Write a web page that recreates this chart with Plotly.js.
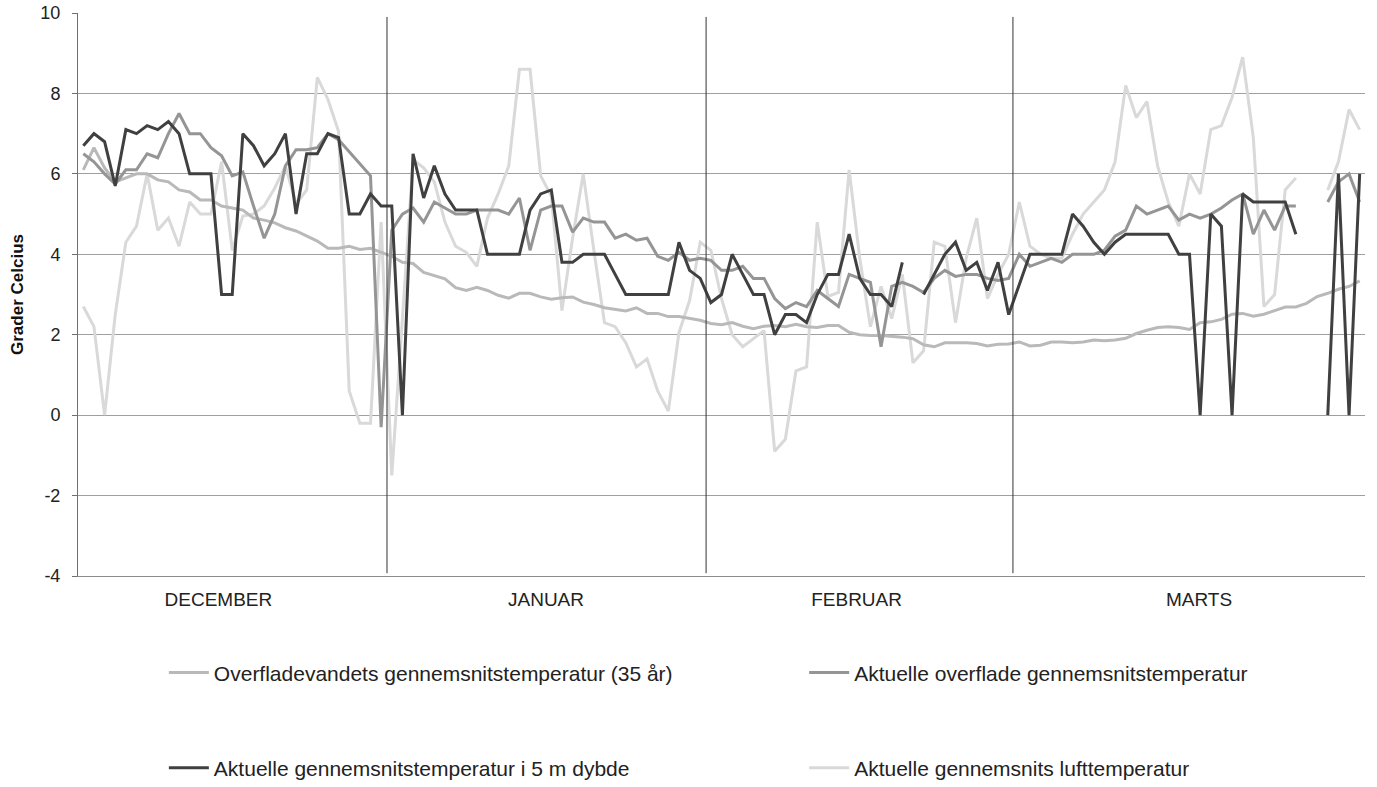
<!DOCTYPE html>
<html>
<head>
<meta charset="utf-8">
<script src="https://cdn.plot.ly/plotly-3.0.1.min.js"></script>
<style>
  html, body { margin: 0; padding: 0; background: #ffffff; }
  #chart { width: 1377px; height: 787px; }
</style>
</head>
<body>
<div id="chart"></div>
<script>
// Daily values, 1 December to 31 March (121 days); null = missing reading
const avg35 = [6.1,6.65,6.15,5.8,5.9,6.0,6.0,5.85,5.8,5.6,5.55,5.35,5.35,5.2,5.15,5.1,4.9,4.85,4.78,4.66,4.58,4.45,4.33,4.15,4.15,4.2,4.12,4.15,4.05,3.95,
  3.8,3.77,3.55,3.47,3.39,3.17,3.1,3.18,3.1,2.98,2.91,3.03,3.03,2.94,2.88,2.92,2.94,2.81,2.75,2.67,2.63,2.59,2.67,2.53,2.53,2.45,2.45,2.4,2.36,2.28,2.25,
  2.3,2.21,2.15,2.21,2.23,2.2,2.26,2.2,2.18,2.23,2.23,2.06,2.0,1.98,1.98,1.96,1.94,1.9,1.75,1.7,1.8,1.8,1.8,1.78,1.72,1.76,1.77,
  1.82,1.72,1.74,1.82,1.82,1.8,1.82,1.87,1.85,1.87,1.91,2.03,2.11,2.18,2.2,2.18,2.13,2.3,2.32,2.38,2.51,2.53,2.46,2.51,2.6,2.69,2.69,2.78,2.95,3.03,3.13,3.2,3.34];

const surface = [6.5,6.3,6.0,5.75,6.1,6.1,6.5,6.4,7.0,7.5,7.0,7.0,6.65,6.45,5.95,6.05,5.2,4.4,5.0,6.2,6.6,6.6,6.65,7.0,6.85,6.55,6.25,5.95,-0.3,4.6,
  5.0,5.15,4.8,5.3,5.15,5.0,5.0,5.1,5.1,5.1,5.0,5.4,4.1,5.1,5.2,5.2,4.55,4.9,4.8,4.8,4.4,4.5,4.35,4.4,3.95,3.85,4.05,3.85,3.9,3.85,3.6,
  3.6,3.7,3.4,3.4,2.9,2.65,2.8,2.7,3.1,2.9,2.7,3.5,3.4,3.3,1.7,3.2,3.3,3.2,3.05,3.4,3.6,3.45,3.5,3.5,3.4,3.35,3.4,
  4.0,3.7,3.8,3.9,3.8,4.0,4.0,4.0,4.1,4.45,4.6,5.2,5.0,5.1,5.2,4.85,5.0,4.9,5.0,5.15,5.35,5.5,4.5,5.1,4.6,5.2,5.2,null,null,5.3,5.8,6.0,5.3];

const depth5m = [6.7,7.0,6.8,5.7,7.1,7.0,7.2,7.1,7.3,7.0,6.0,6.0,6.0,3.0,3.0,7.0,6.7,6.2,6.5,7.0,5.0,6.5,6.5,7.0,6.9,5.0,5.0,5.5,5.2,5.2,
  0,6.5,5.4,6.2,5.5,5.1,5.1,5.1,4.0,4.0,4.0,4.0,5.1,5.5,5.6,3.8,3.8,4.0,4.0,4.0,3.5,3.0,3.0,3.0,3.0,3.0,4.3,3.6,3.4,2.8,3.0,
  4.0,3.5,3.0,3.0,2.0,2.5,2.5,2.3,3.0,3.5,3.5,4.5,3.4,3.0,3.0,2.7,3.8,null,3.0,3.5,4.0,4.3,3.6,3.8,3.1,3.8,2.5,
  3.25,4.0,4.0,4.0,4.0,5.0,4.7,4.3,4.0,4.3,4.5,4.5,4.5,4.5,4.5,4.0,4.0,0,5.0,4.7,0,5.5,5.3,5.3,5.3,5.3,4.5,null,null,0,6.0,0,6.0];

const air = [2.7,2.2,0.0,2.5,4.3,4.7,6.0,4.6,4.9,4.2,5.3,5.0,5.0,6.3,4.1,4.95,5.0,5.2,5.65,6.2,5.25,5.6,8.4,7.85,7.05,0.6,-0.2,-0.2,4.8,-1.5,
  2.4,6.35,6.15,5.8,4.8,4.2,4.05,3.7,4.9,5.5,6.2,8.6,8.6,5.95,5.45,2.6,4.4,6.0,4.1,2.3,2.2,1.8,1.2,1.4,0.6,0.1,2.05,2.85,4.3,4.1,2.9,
  2.0,1.7,1.9,2.1,-0.9,-0.6,1.1,1.2,4.8,2.95,3.05,6.1,3.9,2.2,3.2,2.4,3.5,1.3,1.6,4.3,4.2,2.3,3.9,4.9,2.9,3.5,4.0,
  5.3,4.2,4.0,3.9,3.9,4.5,5.0,5.3,5.6,6.3,8.2,7.4,7.8,6.2,5.3,4.7,6.0,5.5,7.1,7.2,7.9,8.9,6.9,2.7,3.0,5.6,5.9,null,null,5.6,6.3,7.6,7.1];

const seriesNames = [
  "Overfladevandets gennemsnitstemperatur (35 år)",
  "Aktuelle overflade gennemsnitstemperatur",
  "Aktuelle gennemsnitstemperatur i 5 m dybde",
  "Aktuelle gennemsnits lufttemperatur"
];
const monthLabels = ["DECEMBER", "JANUAR", "FEBRUAR", "MARTS"];
const monthLabelPos = [12.7, 43.5, 72.7, 104.9];   // day index of label centres
const monthSeparators = [28.55, 58.55, 87.4];       // day index of divider lines
const yTickVals = [-4, -2, 0, 2, 4, 6, 8, 10];
const yTickText = ["-4", "-2", "0", "2", "4", "6", "8", "10"];

const days = avg35.map((_, i) => i);

const colors = ["#b9b9b9", "#959595", "#404040", "#d9d9d9"];
const seriesData = [avg35, surface, depth5m, air];
const legendIds = ["legend", "legend2", "legend3", "legend4"];

const traces = seriesData.map((ys, k) => ({
  x: days,
  y: ys,
  type: "scatter",
  mode: "lines",
  name: seriesNames[k],
  line: { color: colors[k], width: 3 },
  connectgaps: false,
  legend: legendIds[k],
  hoverinfo: "skip"
}));
// draw order: air at back, then 35 yr, surface, 5 m on top
const drawn = [traces[3], traces[0], traces[1], traces[2]];

const font = "Liberation Sans, Arial, sans-serif";
const legendFont = { family: font, size: 21, color: "#222222" };
// legend placement in container (page) fractions: [x of left edge, y of middle]
const legendPos = [[0.119, 0.145], [0.584, 0.145], [0.119, 0.024], [0.584, 0.024]];

const layout = {
  width: 1377,
  height: 787,
  margin: { l: 78, r: 12, t: 13, b: 211, autoexpand: false },
  paper_bgcolor: "#ffffff",
  plot_bgcolor: "#ffffff",
  font: { family: font, size: 18, color: "#222222" },
  showlegend: true,
  xaxis: {
    type: "linear",
    range: [-0.5, 120.5],
    showgrid: false,
    zeroline: false,
    showline: true,
    linecolor: "#8c8c8c",
    linewidth: 1,
    tickvals: monthLabelPos,
    ticktext: monthLabels,
    ticks: "",
    ticklabelstandoff: 6,
    tickfont: { family: font, size: 19, color: "#222222" },
    automargin: false,
    fixedrange: true
  },
  yaxis: {
    range: [-4, 10],
    tickvals: yTickVals,
    ticktext: yTickText,
    showgrid: true,
    gridcolor: "#9f9f9f",
    gridwidth: 1,
    zeroline: false,
    showline: true,
    linecolor: "#6f6f6f",
    linewidth: 1,
    ticks: "outside",
    ticklen: 5,
    tickcolor: "#6f6f6f",
    ticklabelstandoff: 8,
    tickfont: { family: font, size: 18, color: "#222222" },
    title: { text: "Grader Celcius", font: { family: font, size: 17, color: "#111111", weight: "bold" }, standoff: 12 },
    automargin: false,
    fixedrange: true
  },
  shapes: monthSeparators.map(v => ({
    type: "line", xref: "x", yref: "paper",
    x0: v, x1: v, y0: 0.005, y1: 0.993,
    line: { color: "#333333", width: 1 },
    layer: "above"
  }))
};

legendIds.forEach((id, k) => {
  layout[id] = {
    orientation: "h",
    xref: "container", yref: "container",
    x: legendPos[k][0], xanchor: "left",
    y: legendPos[k][1], yanchor: "middle",
    itemwidth: 40,
    font: legendFont,
    bgcolor: "rgba(0,0,0,0)"
  };
});

Plotly.newPlot("chart", drawn, layout, { displayModeBar: false, staticPlot: true });
</script>
</body>
</html>
